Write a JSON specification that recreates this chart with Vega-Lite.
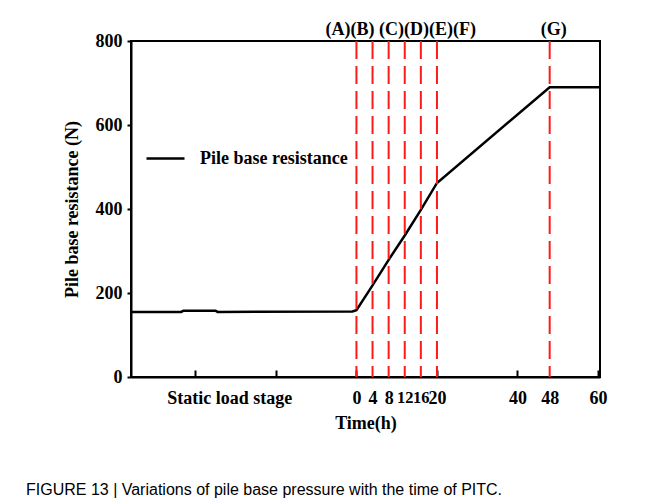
{
  "$schema": "https://vega.github.io/schema/vega-lite/v6.json",
  "width": 469,
  "height": 336,
  "autosize": {"type": "none"},
  "padding": {"left": 131, "top": 41, "right": 64, "bottom": 125},
  "background": "white",
  "config": {
    "view": {"stroke": "black", "strokeWidth": 2},
    "axis": {
      "labelFont": "Liberation Serif", "labelFontWeight": "bold", "labelFontSize": 18, "labelColor": "black",
      "titleFont": "Liberation Serif", "titleFontWeight": "bold", "titleFontSize": 18, "titleColor": "black",
      "domainColor": "black", "domainWidth": 2, "tickColor": "black", "tickWidth": 2, "grid": false
    }
  },
  "title": {
    "text": "FIGURE 13 | Variations of pile base pressure with the time of PITC.",
    "orient": "bottom",
    "anchor": "start",
    "font": "Liberation Sans",
    "fontSize": 16,
    "fontWeight": "normal",
    "color": "black",
    "offset": 50,
    "dx": -37
  },
  "datasets": {
    "curve": [
      {"t": -56, "force": 155, "series": "Pile base resistance"},
      {"t": -43.5, "force": 155, "series": "Pile base resistance"},
      {"t": -43, "force": 158, "series": "Pile base resistance"},
      {"t": -35, "force": 158, "series": "Pile base resistance"},
      {"t": -34.5, "force": 155, "series": "Pile base resistance"},
      {"t": -1, "force": 156, "series": "Pile base resistance"},
      {"t": 0, "force": 159, "series": "Pile base resistance"},
      {"t": 4, "force": 218, "series": "Pile base resistance"},
      {"t": 8, "force": 279, "series": "Pile base resistance"},
      {"t": 12, "force": 337, "series": "Pile base resistance"},
      {"t": 16, "force": 398, "series": "Pile base resistance"},
      {"t": 20, "force": 462, "series": "Pile base resistance"},
      {"t": 48, "force": 690, "series": "Pile base resistance"},
      {"t": 60.5, "force": 690, "series": "Pile base resistance"}
    ],
    "stages": [
      {"t": 0}, {"t": 4}, {"t": 8}, {"t": 12}, {"t": 16}, {"t": 20}, {"t": 48}
    ],
    "letters": [
      {"t": 10, "label": "(A)(B) (C)(D)(E)(F)"},
      {"t": 48, "label": "(G)"}
    ]
  },
  "layer": [
    {
      "data": {"name": "curve"},
      "mark": {"type": "line", "strokeWidth": 2.5},
      "encoding": {
        "x": {
          "field": "t", "type": "quantitative",
          "scale": {"domain": [-56, 60.5], "nice": false, "zero": false},
          "axis": {
            "values": [-40, -31.6, -20, 0, 4, 8, 12, 16, 20, 40, 48, 60],
            "labelExpr": "datum.value == -31.6 ? 'Static load stage' : (datum.value < 0 ? '' : datum.label)",
            "labelFontSize": {"condition": {"test": "datum.value == 12 || datum.value == 16", "value": 16.5}, "value": 18},
            "tickSize": -7,
            "tickOpacity": {"condition": {"test": "datum.value % 20 == 0", "value": 1}, "value": 0},
            "labelPadding": 19,
            "labelOverlap": false,
            "labelFlush": false,
            "title": "Time(h)",
            "titlePadding": 7
          }
        },
        "y": {
          "field": "force", "type": "quantitative",
          "scale": {"domain": [0, 800], "nice": false},
          "axis": {
            "values": [0, 200, 400, 600, 800],
            "tickSize": 4,
            "labelPadding": 5,
            "title": "Pile base resistance (N)",
            "titlePadding": 14
          }
        },
        "color": {
          "field": "series", "type": "nominal",
          "scale": {"range": ["black"]},
          "legend": {
            "title": null,
            "orient": "none",
            "legendX": 14,
            "legendY": 97,
            "symbolType": "stroke",
            "symbolSize": 1444,
            "symbolStrokeWidth": 2.5,
            "labelFont": "Liberation Serif",
            "labelFontWeight": "bold",
            "labelFontSize": 18,
            "labelColor": "black",
            "labelOffset": 14,
            "labelLimit": 400
          }
        }
      }
    },
    {
      "data": {"name": "stages"},
      "mark": {"type": "rule", "color": "#ff1a1a", "strokeWidth": 2, "strokeDash": [18, 7]},
      "encoding": {
        "x": {"field": "t", "type": "quantitative"}
      }
    },
    {
      "data": {"name": "letters"},
      "mark": {"type": "text", "font": "Liberation Serif", "fontWeight": "bold", "fontSize": 18, "color": "black", "baseline": "middle", "dx": 4},
      "encoding": {
        "x": {"field": "t", "type": "quantitative"},
        "y": {"datum": 826},
        "text": {"field": "label"}
      }
    }
  ]
}
